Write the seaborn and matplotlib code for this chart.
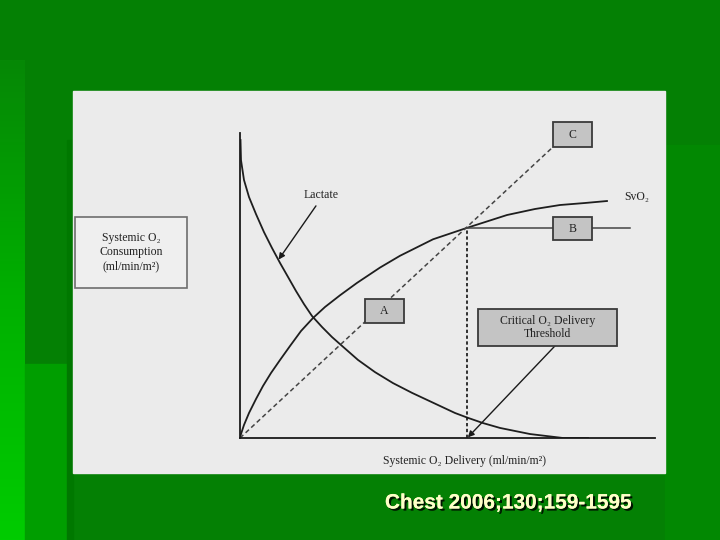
import numpy as np
import pandas as pd
import matplotlib
matplotlib.use("Agg")
import matplotlib.pyplot as plt
import matplotlib.patheffects as pe
from matplotlib.patches import Rectangle
import seaborn as sns

# Curvas (unidades arbitrarias: 0-100 en cada eje)
lactate_x = [0.12, 0.24, 0.96, 2.17, 3.86, 5.78, 7.71, 9.64, 11.57, 13.49, 15.42, 17.35, 19.76, 22.17,
             24.58, 28.43, 32.53, 36.87, 41.45, 45.06, 48.67, 51.81, 54.94, 58.55, 62.65, 69.88, 77.83, 83.86]
lactate_y = [97.7, 91.1, 84.6, 79.0, 73.4, 67.5, 62.3, 57.4, 52.8, 48.2, 43.9, 40.0, 36.4, 33.1,
             30.2, 25.6, 21.6, 18.0, 14.8, 12.5, 10.2, 8.2, 6.6, 4.9, 3.3, 1.3, 0.0, 0.0]

svo2_x = [0.0, 0.24, 0.96, 2.17, 3.86, 5.54, 7.47, 9.64, 12.05, 14.70, 17.59, 20.48, 24.10, 28.19,
          33.73, 38.55, 46.51, 54.70, 64.34, 71.08, 77.11, 83.13, 88.43]
svo2_y = [0.0, 1.31, 4.26, 8.20, 12.79, 17.05, 21.31, 25.57, 30.16, 35.08, 39.34, 42.95, 46.79, 50.85,
          55.87, 59.74, 65.15, 68.90, 73.11, 75.08, 76.39, 77.05, 77.70]

supply_x = [0.0, 75.4]
supply_y = [0.0, 95.4]

plateau_x = [54.7, 94.0]
plateau_y = [68.9, 68.9]

critical_x = [54.7, 54.7]
critical_y = [0.0, 68.9]

# etiquetas de las cajas
box_labels = ["A", "B", "C", "Critical O\u2082 Delivery\nThreshold"]
y_label = "Systemic O\u2082\nConsumption\n(ml/min/m\u00b2)"
x_label = "Systemic O\u2082 Delivery (ml/min/m\u00b2)"
citation = "Chest 2006;130;159-1595"

serif = ["Liberation Serif", "DejaVu Serif"]

fig = plt.figure(figsize=(7.2, 5.4), dpi=100, facecolor="#048004")

# Fondo de la diapositiva (coordenadas en pixeles)
bg = fig.add_axes([0, 0, 1, 1])
bg.set_xlim(0, 720)
bg.set_ylim(540, 0)
bg.axis("off")
grad = np.linspace(0, 1, 200).reshape(-1, 1)
bg.imshow(grad, extent=(0, 25, 540, 60), cmap=matplotlib.colors.LinearSegmentedColormap.from_list(
    "g", ["#068806", "#00b000", "#00cc00"]), aspect="auto", zorder=1)
bg.add_patch(Rectangle((25, 364), 42, 176, color="#009e00", zorder=1))
bg.add_patch(Rectangle((67, 140), 6, 400, color="#007800", zorder=1))
bg.add_patch(Rectangle((665, 145), 55, 395, color="#028802", zorder=1))
bg.add_patch(Rectangle((73, 91), 592, 382, color="#ebebeb", zorder=2))
bg.add_patch(Rectangle((75, 217), 112, 71, facecolor="#efefef", edgecolor="#6e6e6e", lw=1.2, zorder=3))
bg.text(131, 252, y_label, ha="center", va="center", fontsize=8.5, family=serif,
        color="#222222", linespacing=1.25, zorder=4)
bg.text(509, 503, citation, ha="center", va="center", fontsize=15, fontweight="bold",
        family=["Liberation Sans", "DejaVu Sans"], color="#ffffc8", zorder=4,
        path_effects=[pe.withSimplePatchShadow(offset=(1.5, -1.5), shadow_rgbFace="black", alpha=0.85),
                      pe.Normal()])

# Grafico principal
ax = fig.add_axes([240 / 720, 1 - 438 / 540, 415 / 720, 305 / 540])
ax.patch.set_alpha(0)
ax.set_xlim(0, 100)
ax.set_ylim(0, 100)
ax.set_xticks([])
ax.set_yticks([])
for s in ["top", "right"]:
    ax.spines[s].set_visible(False)
for s in ["left", "bottom"]:
    ax.spines[s].set_color("#1a1a1a")
    ax.spines[s].set_linewidth(1.3)

line_col = "#1e1e1e"
sns.lineplot(x=lactate_x, y=lactate_y, ax=ax, color=line_col, lw=1.3, sort=False)
sns.lineplot(x=svo2_x, y=svo2_y, ax=ax, color=line_col, lw=1.3, sort=False)
sns.lineplot(x=plateau_x, y=plateau_y, ax=ax, color="#444444", lw=1.1)
ax.plot(supply_x, supply_y, color="#444444", lw=1.1, ls=(0, (3, 2)), zorder=2)
ax.plot(critical_x, critical_y, color="#111111", lw=1.2, ls=(0, (2, 1.5)), zorder=2)

# cajas A, B, C y umbral critico
boxes = [(30.1, 37.7, 9.4, 7.9), (75.4, 64.9, 9.4, 7.5), (75.4, 95.4, 9.4, 8.2), (57.3, 30.2, 33.5, 12.1)]
for (bx, by, bw, bh), lab in zip(boxes, box_labels):
    ax.add_patch(Rectangle((bx, by), bw, bh, facecolor="#c4c4c4", edgecolor="#3a3a3a",
                           lw=1.3, zorder=5, clip_on=False))
    ax.text(bx + bw / 2, by + bh / 2, lab, ha="center", va="center", fontsize=8.5,
            family=serif, color="#222222", zorder=6, linespacing=1.2)

# textos y flechas
ax.text(19.5, 79.7, "Lactate", ha="center", va="center", fontsize=8.5, family=serif, color="#222222")
ax.text(95.7, 79.0, "SvO\u2082", ha="center", va="center", fontsize=8.5, family=serif,
        color="#222222", clip_on=False)
ax.text(54.0, -7.5, x_label, ha="center", va="center", fontsize=8.5, family=serif,
        color="#222222", clip_on=False)
arrow = dict(arrowstyle="-|>", color="#1a1a1a", lw=1.0, mutation_scale=9, shrinkA=0, shrinkB=0)
ax.annotate("", xy=(9.3, 58.5), xytext=(18.3, 76.1), arrowprops=arrow)
ax.annotate("", xy=(54.9, 0.2), xytext=(75.9, 30.2), arrowprops=arrow, annotation_clip=False)

fig.savefig("out.png", dpi=100, facecolor=fig.get_facecolor())
